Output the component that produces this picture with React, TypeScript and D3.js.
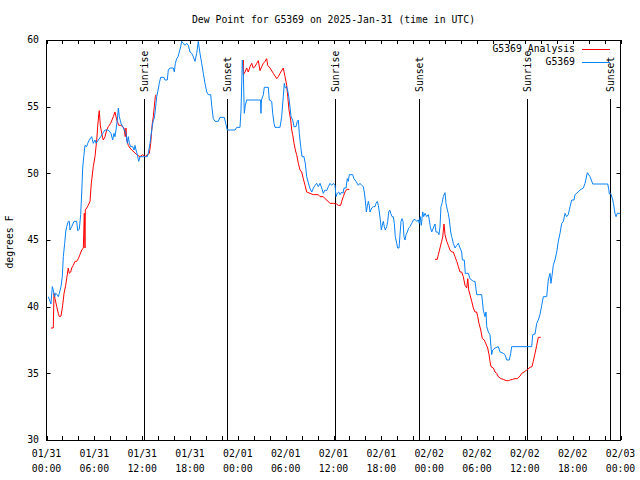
import React from "react";
import * as d3 from "d3";

// ---- Data (hours since 2025-01-31 00:00 UTC, dew point °F) ----
const obsHours = [0.23,0.44,0.56,0.73,0.85,1.03,1.15,1.35,1.48,1.61,1.82,1.98,2.11,2.28,2.41,2.53,2.73,2.86,2.95,3.16,3.45,3.79,3.91,4.11,4.29,4.42,4.54,4.67,4.83,5.04,5.17,5.37,5.67,5.87,6.08,6.21,6.5,6.8,7.05,7.34,7.75,8.09,8.3,8.47,8.59,8.72,8.88,9.01,9.13,9.35,9.56,9.76,9.97,10.14,10.26,10.39,10.56,10.81,10.98,11.1,11.23,11.39,11.57,11.73,12.14,12.64,12.77,12.98,13.2,13.4,13.52,13.65,13.82,13.95,14.15,14.32,14.74,14.86,15.15,15.28,15.49,15.91,16.03,16.16,16.33,16.5,16.66,16.83,16.96,17.16,17.37,17.59,17.79,18.0,18.21,18.41,18.63,18.84,19.04,19.25,19.47,19.67,19.88,20.1,20.3,20.6,20.72,20.92,21.14,21.55,21.76,22.3,22.48,22.68,23.65,23.86,24.27,24.4,24.56,24.69,24.81,24.94,25.11,26.85,26.9,26.97,27.2,27.32,27.82,27.95,28.25,28.37,28.54,28.66,29.29,29.5,29.7,29.83,29.95,30.13,30.33,30.54,30.67,30.88,31.05,31.3,31.46,31.59,31.71,31.89,32.05,32.3,32.46,32.64,32.84,33.03,33.27,33.47,33.68,33.89,34.09,34.31,34.52,34.72,34.93,35.15,35.35,35.56,35.77,35.98,36.19,36.32,36.48,36.65,36.82,37.03,37.19,37.32,37.57,37.73,37.86,37.98,38.41,38.57,38.82,39.11,39.32,39.54,39.74,39.86,39.99,40.12,40.24,40.37,40.49,40.58,40.79,40.99,41.21,41.33,41.5,41.62,41.75,41.87,42.0,42.12,42.25,42.37,42.5,42.67,42.8,42.93,43.05,43.18,43.34,43.5,43.63,43.75,43.93,44.05,44.22,44.34,44.47,44.59,44.72,44.84,44.97,45.1,45.26,45.43,45.6,45.81,46.01,46.22,46.44,46.64,46.76,46.89,47.01,47.19,47.31,47.48,47.69,47.89,48.02,48.14,48.32,48.52,48.73,48.86,49.07,49.23,49.36,49.48,49.61,49.77,49.99,50.11,50.28,50.4,50.53,50.7,50.83,51.03,51.24,51.46,51.66,51.87,52.08,52.16,52.41,52.53,52.91,53.12,53.54,53.75,53.96,54.59,54.79,55.0,55.13,55.22,55.42,55.63,55.84,55.97,56.26,56.67,56.89,57.3,57.51,57.73,58.05,58.23,58.35,60.86,60.99,61.28,61.49,61.69,61.9,62.12,62.32,62.74,62.94,63.16,63.28,63.45,63.57,63.78,64.0,64.2,64.41,64.63,64.83,65.04,65.25,65.45,65.67,65.88,66.17,66.29,66.51,66.92,67.34,67.55,67.84,68.18,68.52,70.4,70.53,70.6,70.78,71.03,71.11,71.31,71.44,71.6,71.94];
const obsValues = [40.75,40.4,40.2,41.5,41.25,40.75,41,40.9,40.75,41,41.5,42.25,43.75,44.75,45.6,46,46.4,46.4,45.75,46,46.4,46.4,45.7,45.8,46.9,48.6,50.4,51.25,52.1,52,52.25,52.5,52.75,52.25,52.5,52.25,52.5,52.75,53,53.25,53.25,53,52.5,53,52.75,53.25,54,54.9,54.25,53.75,53.5,53.25,53,52.25,52.75,52.25,52,52,51.75,52.1,51.75,51.4,50.9,51.25,51.25,51.25,51.5,52.25,53.25,54,54.1,54.75,55.75,56.1,56.75,57.2,57.2,57,57,57.75,57.9,57.9,57.6,58.25,58.6,58.75,59.1,59.5,59.9,59.75,59.6,59.75,59.6,59.1,59,58.75,58.4,59,59.9,59,58.25,57.5,56.75,56.1,55.9,55.9,55.1,54.1,53.9,53.9,54.2,54.2,53.75,53.25,53.25,53.45,53.45,54.75,58.5,57.5,54.5,55.1,55.5,55.5,54.5,55.5,55.9,56.45,56.45,55.5,55.4,54.5,53.75,53.45,53.45,54.25,55.75,56.75,56.4,56.5,56,55,54.25,54,53.5,53.5,53.9,54,53,52,51.25,51.25,50.75,49.75,49.3,48.9,48.6,48.9,49.1,49.25,49,49.25,48.9,48.5,48.75,48.7,49,49.25,49.1,49.25,49.1,48.25,48.5,48.6,48.4,48.6,48.5,48.9,48.9,49.6,49.4,49.9,49.9,49.6,49.4,49.1,49.25,49.1,49,48.6,48,47.1,47.5,47.9,47.6,47.1,47.4,47.5,47.5,47.75,47.9,47.6,47.1,46.5,45.75,46.1,46.4,46,45.75,46,46.4,47.1,47.25,47,46.75,46.75,46.25,45.25,44.75,44.4,44.4,45.4,46.4,46.6,46.4,45.25,45,45.4,45.6,45.9,46,46.25,46.5,46.55,46.4,46.5,46.25,46.75,46.1,47.1,46.75,47,46.75,46.9,46.5,46,45.6,45.9,46.2,45.6,45.6,45.4,46,47.5,47.75,48.25,48.55,47.75,47.25,47,46.5,45.6,45.25,44.75,44.4,44.6,44.75,44.4,44.1,43.5,43.5,42.5,42.5,42.1,41.9,41.9,40.9,40.9,39.75,39.25,39.6,38.5,38.1,37.9,36.4,36.75,36.9,37,36.6,36.5,36.4,36,36,36.5,37,37,37.9,37.95,38.75,39,39.4,40.1,40.75,40.75,42,42.5,41.75,42.5,43.1,43.5,44.1,44.9,45.5,46.25,46.4,47,46.75,46.9,47.5,48,48,48.4,48.5,48.75,48.9,49.25,50.05,49.75,49.2,49.2,48.8,48.45,48.5,48,47.75,47,46.75,47,47];

const anaHours = [0.56,0.85,0.94,1.07,1.28,1.48,1.61,1.82,2.03,2.2,2.41,2.53,2.73,2.86,3.04,3.16,3.36,3.58,3.79,3.99,4.2,4.42,4.62,4.74,4.83,4.87,5.04,5.24,5.46,5.62,5.87,6.08,6.3,6.42,6.55,6.62,6.75,6.92,7.12,7.34,7.55,7.75,8.05,8.38,8.59,8.81,9.06,9.31,9.56,9.72,9.88,9.97,10.06,10.26,10.47,10.69,10.98,11.31,11.73,12.07,12.36,12.64,12.9,13.07,13.27,13.4,13.52,13.65,13.74,
  19.0,
  24.69,24.7,24.9,25.11,25.31,25.53,25.74,25.94,26.15,26.37,26.57,26.78,26.99,27.2,27.41,27.62,27.75,28.04,28.45,28.88,29.08,29.29,29.7,29.92,30.13,30.26,30.42,30.63,30.76,30.88,31.05,31.21,31.38,31.59,31.8,32.01,32.21,32.43,32.64,33.05,33.47,34.09,34.31,34.72,34.93,35.15,35.56,35.98,36.4,36.6,36.9,37.03,37.23,37.44,37.66,37.98,
  43.0,
  48.73,49.02,49.15,49.36,49.57,49.7,49.86,49.99,50.2,50.4,50.61,50.83,51.03,51.24,51.46,51.66,51.87,52.08,52.28,52.5,52.71,52.84,52.96,53.12,53.34,53.54,53.75,53.96,54.09,54.25,54.47,54.67,54.92,55.09,55.34,55.51,55.63,55.76,56.05,56.26,56.47,56.67,57.01,57.3,57.64,57.93,58.14,58.48,58.77,59.06,59.4,59.61,59.9,60.24,60.65,60.9,61.06,61.28,61.49,61.69,61.99];
const anaValues: (number | null)[] = [38.4,38.4,41,40.6,40,39.5,39.25,39.3,40.1,41,41.6,42.1,42.9,42.5,42.6,42.9,43.1,43.4,43.4,43.6,43.9,44.25,44.4,47,44.4,47.25,47.4,47.6,47.9,49.25,50.5,51.25,52.5,53.5,54.4,54.7,53.6,53,52.5,52.75,53.25,53.5,53.75,54.25,54.6,54,53.6,53.6,53.5,53.4,52.75,53.4,52.5,52.1,51.9,51.75,51.6,51.4,51.25,51.4,51.25,51.4,51.5,52.25,53.75,54.25,55,55.75,55.9,
  null,
  58.5,57.4,57.6,57.9,57.6,58,58.25,57.9,58,58.25,58.45,57.7,58,58.25,58.4,58.6,58.1,57.9,57.5,57.1,57.25,57.5,57.9,57.25,56.6,55.75,54.75,54,53.25,52.9,52.25,51.75,51.4,50.75,50.25,50.1,49.6,49.1,48.6,48.5,48.4,48.4,48.25,48.25,48.1,48,47.75,47.75,47.7,47.6,47.6,47.9,48.25,48.6,48.8,48.8,
  null,
  43.55,43.55,43.9,44.4,44.9,45.25,46.2,45.4,44.9,44.6,44.25,44.1,44.1,43.75,43.4,43,42.6,42.6,42.25,41.6,41.4,42.1,41.25,40.9,40.4,39.9,39.6,39.6,39.25,38.75,38.25,37.6,37.5,37.25,36.9,36.4,35.9,35.5,35.4,35.1,35,34.75,34.6,34.55,34.45,34.45,34.5,34.55,34.6,34.6,34.8,35,35.1,35.25,35.45,35.5,35.9,36.5,37.1,37.7,37.7];

const sunHours = [12.28, 22.69, 36.24, 46.78, 60.29, 70.73];
const sunLabels = ["Sunrise", "Sunset", "Sunrise", "Sunset", "Sunrise", "Sunset"];

const xTickHours = [0, 6, 12, 18, 24, 30, 36, 42, 48, 54, 60, 66, 72];
const xTickDates = ["01/31", "01/31", "01/31", "01/31", "02/01", "02/01", "02/01", "02/01", "02/02", "02/02", "02/02", "02/02", "02/03"];
const xTickTimes = ["00:00", "06:00", "12:00", "18:00", "00:00", "06:00", "12:00", "18:00", "00:00", "06:00", "12:00", "18:00", "00:00"];
const yTicks = [30, 35, 40, 45, 50, 55, 60];

const seriesNames = ["G5369 Analysis", "G5369"];
const seriesColors = ["#ff0000", "#0a82f5"];

const FONT = "'DejaVu Sans Mono', 'Liberation Mono', monospace";

export default function App() {
  const left = 46.5, right = 620.5, top = 40, bottom = 440;
  const x = d3.scaleLinear().domain([0, 72]).range([left, right]);
  const y = d3.scaleLinear().domain([30, 60]).range([bottom, top]);

  const obs: [number, number | null][] = obsHours.map((h, i) => [h, obsValues[i]]);
  const ana: [number, number | null][] = anaHours.map((h, i) => [h, anaValues[i]]);
  const line = d3
    .line<[number, number | null]>()
    .defined((d) => d[1] != null)
    .x((d) => x(d[0]))
    .y((d) => y(d[1] as number));

  const minorTicks = d3.range(0, 73, 2);
  const tickLen = 4;

  return (
    <svg
      width={640}
      height={480}
      style={{ position: "absolute", left: 0, top: 0, background: "#fff" }}
      fontFamily={FONT}
      fontSize={9.8}
    >
      <rect x={0} y={0} width={640} height={480} fill="#fff" />
      {/* title */}
      <text x={(left + right) / 2} y={23} textAnchor="middle" fill="#000">
        Dew Point for G5369 on 2025-Jan-31 (time in UTC)
      </text>

      {/* y ticks and labels */}
      {yTicks.map((v) => (
        <g key={"y" + v}>
          <line x1={left} x2={left + tickLen} y1={Math.round(y(v)) + 0.5} y2={Math.round(y(v)) + 0.5} stroke="#000" />
          <line x1={right - tickLen} x2={right} y1={Math.round(y(v)) + 0.5} y2={Math.round(y(v)) + 0.5} stroke="#000" />
          <text x={39} y={y(v)} dy="0.35em" textAnchor="end" fill="#000">
            {v}
          </text>
        </g>
      ))}

      {/* x ticks */}
      {minorTicks.map((h) => (
        <g key={"xt" + h}>
          <line x1={Math.round(x(h)) + 0.5} x2={Math.round(x(h)) + 0.5} y1={bottom} y2={bottom - tickLen} stroke="#000" />
          <line x1={Math.round(x(h)) + 0.5} x2={Math.round(x(h)) + 0.5} y1={top} y2={top + tickLen} stroke="#000" />
        </g>
      ))}
      {xTickHours.map((h, i) => (
        <text key={"xl" + h} x={x(h)} y={457} textAnchor="middle" fill="#000">
          <tspan x={x(h)}>{xTickDates[i]}</tspan>
          <tspan x={x(h)} dy={14.5}>{xTickTimes[i]}</tspan>
        </text>
      ))}

      {/* y axis label */}
      <text transform="translate(13,242) rotate(-90)" textAnchor="middle" fill="#000">
        degrees F
      </text>

      {/* sunrise / sunset lines */}
      {sunHours.map((h, i) => (
        <g key={"sun" + i}>
          <line x1={Math.round(x(h)) + 0.5} x2={Math.round(x(h)) + 0.5} y1={99} y2={bottom} stroke="#000" />
          <text
            transform={`translate(${Math.round(x(h)) + 0.5},92) rotate(-90)`}
            dy="0.35em"
            textAnchor="start"
            fill="#000"
          >
            {sunLabels[i]}
          </text>
        </g>
      ))}

      {/* data */}
      <path d={line(ana) || ""} fill="none" stroke={seriesColors[0]} strokeWidth={1} />
      <path d={line(obs) || ""} fill="none" stroke={seriesColors[1]} strokeWidth={1} />

      {/* legend */}
      {seriesNames.map((n, i) => (
        <g key={"lg" + i}>
          <text x={575} y={49 + i * 13} dy="0.35em" textAnchor="end" fill="#000">
            {n}
          </text>
          <line x1={582} x2={610} y1={49.5 + i * 13} y2={49.5 + i * 13} stroke={seriesColors[i]} />
        </g>
      ))}

      {/* border */}
      <rect x={left} y={top + 0.5} width={right - left} height={bottom - top} fill="none" stroke="#000" />
    </svg>
  );
}
